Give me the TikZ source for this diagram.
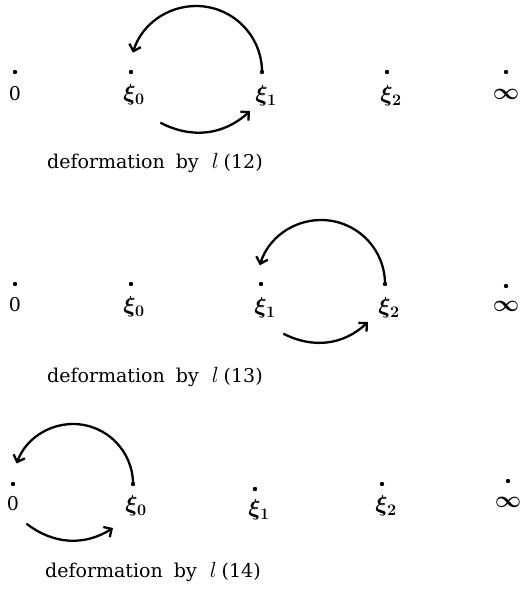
\RequirePackage{fix-cm}
\documentclass[tikz,border=0pt]{standalone}
\usepackage[no-math]{fontspec}
\setmainfont{DejaVu Serif}
\usetikzlibrary{arrows.meta}
\begin{document}
\begin{tikzpicture}[x=1pt,y=1pt,
  pt/.style={circle,fill=black,inner sep=0pt,minimum size=4.4pt},
  lab/.style={font=\fontsize{23}{27}\selectfont\boldmath, inner sep=0pt, anchor=center},
  capt/.style={font=\fontsize{19}{23}\selectfont, inner sep=0pt, anchor=west},
  arr/.style={line width=2.3pt, line cap=round, -{Straight Barb[length=6pt,width=12pt,line width=2.3pt]}},
]
\useasboundingbox (0,0) rectangle (523,-599);
\newcommand{\captxt}[1]{deformation\hspace{11pt}by\hspace{13pt}{\fontsize{22}{26}\selectfont$l$}\hspace{5pt}(#1)}
% ---------- row 1 ----------
\node[pt] (a0) at (15,-72) {};
\node[pt] (a1) at (131,-72) {};
\node[pt] (a2) at (262,-72) {};
\node[pt] (a3) at (387,-72) {};
\node[pt] (a4) at (506,-72) {};
\node[lab] (la0) at (15,-94) {\fontsize{19}{23}\selectfont 0};
\node[lab] (la1) at (134,-95) {$\xi_0$};
\node[lab] (la2) at (266,-96) {$\xi_1$};
\node[lab] (la3) at (391,-96) {$\xi_2$};
\node[lab] (la4) at (506,-94) {$\infty$};
\node[capt] (ca) at (47,-163) {\captxt{12}};
\draw[arr] (a2) arc[start angle=0,end angle=163,radius=66];
\coordinate (as) at (161,-123);
\coordinate (ae) at (250,-111);
\draw[arr] (as) to[bend right=35] (ae);
% ---------- row 2 ----------
\node[pt] (b0) at (15,-284) {};
\node[pt] (b1) at (131,-284) {};
\node[pt] (b2) at (261,-284) {};
\node[pt] (b3) at (385,-284) {};
\node[pt] (b4) at (506,-286) {};
\node[lab] (lb0) at (15,-305) {\fontsize{19}{23}\selectfont 0};
\node[lab] (lb1) at (134,-307) {$\xi_0$};
\node[lab] (lb2) at (265,-308) {$\xi_1$};
\node[lab] (lb3) at (389,-308) {$\xi_2$};
\node[lab] (lb4) at (506,-306) {$\infty$};
\node[capt] (cb) at (47,-377) {\captxt{13}};
\draw[arr] (b3) arc[start angle=0,end angle=163,radius=64];
\coordinate (bs) at (284,-334);
\coordinate (be) at (368,-322);
\draw[arr] (bs) to[bend right=35] (be);
% ---------- row 3 ----------
\node[pt] (c0) at (13,-484) {};
\node[pt] (c1) at (133,-484) {};
\node[pt] (c2) at (255,-489) {};
\node[pt] (c3) at (382,-484) {};
\node[pt] (c4) at (508,-481) {};
\node[lab] (lc0) at (13,-504) {\fontsize{19}{23}\selectfont 0};
\node[lab] (lc1) at (136,-506) {$\xi_0$};
\node[lab] (lc2) at (259,-510) {$\xi_1$};
\node[lab] (lc3) at (386,-506) {$\xi_2$};
\node[lab] (lc4) at (508,-502) {$\infty$};
\node[capt] (cc) at (45,-572) {\captxt{14}};
\draw[arr] (c1) arc[start angle=0,end angle=160,radius=60];
\coordinate (cs) at (27,-524);
\coordinate (ce) at (113,-528);
\draw[arr] (cs) to[bend right=35] (ce);
\end{tikzpicture}
\end{document}
